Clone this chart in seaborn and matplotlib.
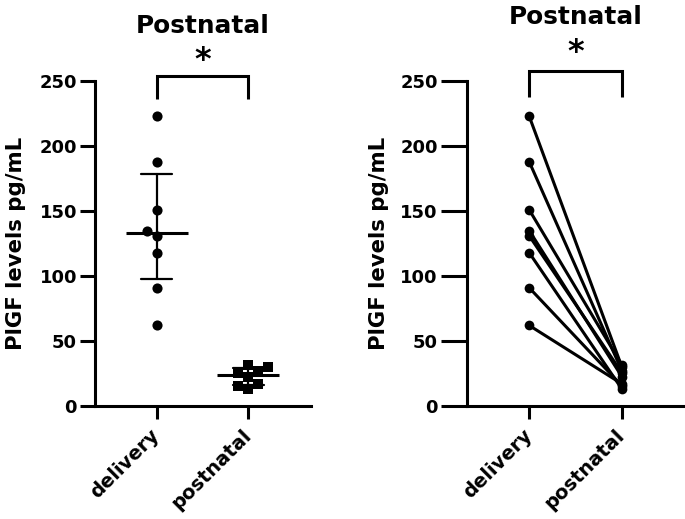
import numpy as np
import pandas as pd
import matplotlib
matplotlib.use('Agg')
import matplotlib.pyplot as plt
import seaborn as sns

# Data (PlGF, pg/mL), same 8 women in both panels
groups = ['delivery', 'postnatal']
subjects = ['s1', 's2', 's3', 's4', 's5', 's6', 's7', 's8']
delivery = [223, 188, 151, 135, 131, 118, 91, 62]
postnatal = [30, 27, 31.5, 22.5, 25.5, 13, 15.5, 17]
title = 'Postnatal'
ylabel = 'PlGF levels pg/mL'
yticks = [0, 50, 100, 150, 200, 250]

df = pd.DataFrame({
    'subject': subjects * 2,
    'group': ['delivery'] * len(delivery) + ['postnatal'] * len(postnatal),
    'value': delivery + postnatal,
})

sns.set_style('ticks')
plt.rcParams['font.family'] = ['DejaVu Sans']
plt.rcParams['font.weight'] = 'bold'
for key in ['text.color', 'axes.labelcolor', 'xtick.color', 'ytick.color', 'axes.edgecolor']:
    plt.rcParams[key] = 'black'


def iqr(x):
    # GraphPad style quartiles
    return (np.percentile(x, 25, method='weibull'), np.percentile(x, 75, method='weibull'))


fig = plt.figure(figsize=(6.85, 5.19), dpi=100)
ax1 = fig.add_axes([95 / 685, 113 / 519, 216 / 685, 325 / 519])
ax2 = fig.add_axes([467 / 685, 113 / 519, 218 / 685, 325 / 519])

# Left panel: scatter with median and interquartile range
sns.swarmplot(data=df[df['group'] == 'delivery'], x='group', y='value', order=groups,
              marker='o', size=7.3, color='black', ax=ax1)
sns.swarmplot(data=df[df['group'] == 'postnatal'], x='group', y='value', order=groups,
              marker='s', size=7.6, color='black', ax=ax1)
sns.pointplot(data=df, x='group', y='value', order=groups, estimator='median',
              errorbar=iqr, capsize=0.34, color='black', linestyle='none',
              marker='_', markersize=44, markeredgewidth=2.2,
              err_kws={'linewidth': 1.6}, ax=ax1)

# Right panel: paired before/after
sns.lineplot(data=df, x='group', y='value', units='subject', estimator=None,
             color='black', marker='o', markersize=7, markeredgewidth=0,
             linewidth=2.2, legend=False, ax=ax2)

for ax, ytl in [(ax1, 11), (ax2, 19)]:
    ax.set_xlim(-0.67, 1.68)
    ax.set_ylim(0, 250)
    ax.set_yticks(yticks)
    ax.set_xticks(range(len(groups)))
    ax.set_xticklabels(groups, rotation=45, ha='right', va='center', rotation_mode='anchor',
                       fontsize=14, fontweight='bold')
    ax.tick_params(axis='y', length=ytl, width=2.2, pad=2, labelsize=13)
    ax.tick_params(axis='x', length=9, width=2.2, pad=10)
    for lab in ax.get_yticklabels():
        lab.set_fontweight('bold')
    for s in ['top', 'right']:
        ax.spines[s].set_visible(False)
    for s in ['left', 'bottom']:
        ax.spines[s].set_linewidth(2.2)
    ax.set_xlabel('')
    ax.set_ylabel(ylabel, fontsize=15.3, fontweight='bold')

ax1.yaxis.set_label_coords(-0.32, 0.5)
ax2.yaxis.set_label_coords(-0.358, 0.5)

# titles, significance brackets and stars
for ax, ty, by, bl, sy in [(ax1, 287, 254, 236, 266), (ax2, 294, 258, 238, 272)]:
    ax.text(0.5, ty, title, ha='center', va='baseline', fontsize=17.8, fontweight='bold',
            clip_on=False)
    ax.plot([0, 0, 1, 1], [bl, by, by, bl], color='black', linewidth=2.2,
            clip_on=False, solid_capstyle='butt', solid_joinstyle='miter')
    ax.text(0.5, sy, '*', ha='center', va='center', fontsize=23, fontweight='bold',
            clip_on=False)

fig.savefig('out.png', dpi=100)
